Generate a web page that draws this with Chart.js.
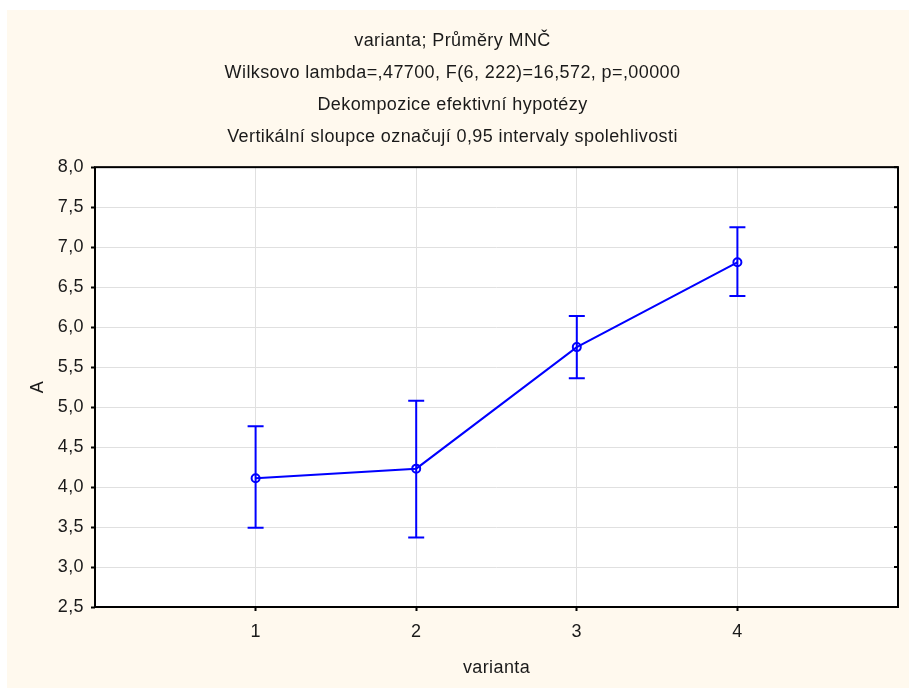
<!DOCTYPE html>
<html>
<head>
<meta charset="utf-8">
<script src="https://cdn.jsdelivr.net/npm/chart.js@4.4.1/dist/chart.umd.min.js"></script>
<style>
  body { margin: 0; background: #ffffff; }
  .wrap { position: absolute; left: 7px; top: 10px; width: 902px; height: 678px; background: #fff9ee; }
</style>
</head>
<body>
<div class="wrap"><canvas class="means" width="902" height="678"></canvas></div>
<script>
const ctx = document.querySelector(".means").getContext("2d");

const TITLE_LINES = [
  "varianta; Průměry MNČ",
  "Wilksovo lambda=,47700, F(6, 222)=16,572, p=,00000",
  "Dekompozice efektivní hypotézy",
  "Vertikální sloupce označují 0,95 intervaly spolehlivosti",
];
const variants = [1, 2, 3, 4];
const means = [4.11, 4.23, 5.75, 6.81];
const upper = [4.76, 5.08, 6.14, 7.25];
const lower = [3.49, 3.37, 5.36, 6.39];

const BLUE = "#0000ff";

// písmo v originále je o kousek širší
const spacing = {
  id: "spacing",
  beforeUpdate(chart) {
    chart.ctx.letterSpacing = "0.4px";
  },
  beforeDraw(chart) {
    chart.ctx.letterSpacing = "0.4px";
  },
};

// svislé intervaly spolehlivosti + vnitřní značky na pravé ose
const errorBars = {
  id: "errorBars",
  afterDatasetsDraw(chart) {
    const { ctx, scales: { x, y }, chartArea } = chart;
    ctx.save();
    ctx.strokeStyle = BLUE;
    ctx.lineWidth = 2;
    variants.forEach((v, i) => {
      const px = x.getPixelForValue(v);
      const top = y.getPixelForValue(upper[i]);
      const bot = y.getPixelForValue(lower[i]);
      ctx.beginPath();
      ctx.moveTo(px, top);
      ctx.lineTo(px, bot);
      ctx.moveTo(px - 8, top);
      ctx.lineTo(px + 8, top);
      ctx.moveTo(px - 8, bot);
      ctx.lineTo(px + 8, bot);
      ctx.stroke();
    });
    ctx.strokeStyle = "#000";
    ctx.lineWidth = 2;
    y.ticks.forEach((t) => {
      const py = y.getPixelForValue(t.value);
      ctx.beginPath();
      ctx.moveTo(chartArea.right - 4, py);
      ctx.lineTo(chartArea.right, py);
      ctx.stroke();
    });
    ctx.restore();
  },
};

const plotBorder = {
  id: "plotBorder",
  afterDatasetsDraw(chart) {
    const { ctx, chartArea: a } = chart;
    ctx.save();
    ctx.strokeStyle = "#000";
    ctx.lineWidth = 2;
    ctx.strokeRect(a.left, a.top, a.right - a.left, a.bottom - a.top);
    ctx.restore();
  },
};

const whiteArea = {
  id: "whiteArea",
  beforeDraw(chart) {
    const { ctx, chartArea: a } = chart;
    ctx.save();
    ctx.fillStyle = "#fff";
    ctx.fillRect(a.left, a.top, a.right - a.left, a.bottom - a.top);
    ctx.restore();
  },
};

Chart.defaults.font.family = "'Liberation Sans', Arial, sans-serif";
Chart.defaults.color = "#1a1a1a";

new Chart(ctx, {
  type: "scatter",
  data: {
    datasets: [
      {
        data: variants.map((v, i) => ({ x: v, y: means[i] })),
        showLine: true,
        borderColor: BLUE,
        borderWidth: 2,
        pointRadius: 4,
        pointBorderWidth: 2,
        pointBorderColor: BLUE,
        pointBackgroundColor: "rgba(0,0,0,0)",
      },
    ],
  },
  options: {
    responsive: false,
    animation: false,
    layout: { padding: { left: 0, right: 11, top: 0, bottom: 0 } },
    plugins: {
      legend: { display: false },
      tooltip: { enabled: false },
      title: {
        display: true,
        text: TITLE_LINES,
        color: "#1a1a1a",
        font: { size: 18, weight: "normal", lineHeight: 1.78 },
        padding: { top: 15, bottom: 14 },
      },
    },
    scales: {
      x: {
        type: "linear",
        min: 0,
        max: 5,
        afterBuildTicks: (scale) => {
          scale.ticks = variants.map((v) => ({ value: v }));
        },
        afterFit: (scale) => {
          scale.height = 81;
        },
        ticks: { font: { size: 18 }, padding: 10 },
        grid: { color: "#e0e0e0", tickColor: "#000", tickLength: 4, tickWidth: 2 },
        border: { display: false },
        title: { display: true, text: "varianta", font: { size: 18 }, padding: { top: 4, bottom: 9 } },
      },
      y: {
        min: 2.5,
        max: 8,
        afterFit: (scale) => {
          scale.width = 88;
        },
        ticks: {
          stepSize: 0.5,
          font: { size: 18 },
          padding: 7,
          callback: (v) => v.toFixed(1).replace(".", ","),
        },
        grid: { color: "#e0e0e0", tickColor: "#000", tickLength: 4, tickWidth: 2 },
        border: { display: false },
        title: { display: true, text: "A", font: { size: 18 }, padding: { top: 20, bottom: 0 } },
      },
    },
  },
  plugins: [spacing, whiteArea, errorBars, plotBorder],
});
</script>
</body>
</html>
